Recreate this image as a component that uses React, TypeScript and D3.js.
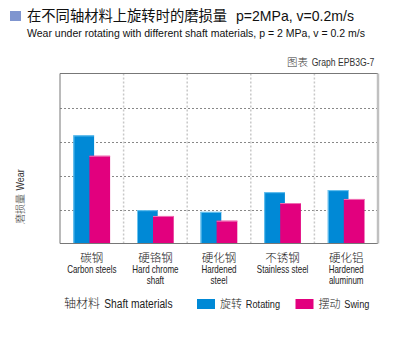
import React from "react";
import * as d3 from "d3";

const categoriesZh = ["碳钢", "硬铬钢", "硬化钢", "不锈钢", "硬化铝"];
const categoriesEn = [["Carbon steels"], ["Hard chrome", "shaft"], ["Hardened", "steel"], ["Stainless steel"], ["Hardened", "aluminum"]];
const rotating = [3.18, 0.98, 0.93, 1.51, 1.57];
const swing = [2.58, 0.81, 0.67, 1.19, 1.31];
const yTicks = [0, 1, 2, 3, 4, 5];
const seriesZh = ["旋转", "摆动"];
const seriesEn = ["Rotating", "Swing"];

const W = 400, H = 360;
const L = 60, R = 378, T = 73.5, B = 243.5;
const FONT = "'Liberation Sans', Arial, 'Noto Sans CJK SC', sans-serif";
const CJK = "'Noto Sans CJK SC', sans-serif";
const BLUE = "#0089d6";
const PINK = "#e2007e";

function Mixed({ x, y, zh, en, fs, efs, sx, fill = "#222", rotate = 0 }: any) {
  const zw = zh.length * fs + fs * 0.35;
  return (
    <g transform={`translate(${x},${y}) rotate(${rotate})`}>
      <text x={0} y={0} fontSize={fs} fontFamily={CJK} fill={fill} fontWeight={300}>{zh}</text>
      <text transform={`translate(${zw},0) scale(${sx},1)`} fontSize={efs} fontFamily={FONT} fill={fill}>{en}</text>
    </g>
  );
}

export default function App() {
  const x = d3.scaleBand<number>().domain(d3.range(categoriesZh.length)).range([L, R]);
  const y = d3.scaleLinear().domain([0, 5]).range([B, T]);
  const bw = 20.7;
  const off = 16;
  const colors = [BLUE, PINK];
  const legX = [197, 295.5];
  return (
    <svg width={W} height={H} style={{ position: "absolute", left: 0, top: 0 }} fontFamily={FONT}>
      <rect x={0} y={0} width={W} height={H} fill="#fff" />
      <rect x={10} y={11} width={11} height={10} fill="#7f95cf" />
      <text x={27} y={21} fontSize={14.3} fontFamily={CJK} fill="#111">在不同轴材料上旋转时的磨损量</text>
      <text x={236} y={21} fontSize={14.3} fill="#111" textLength={118} lengthAdjust="spacingAndGlyphs">p=2MPa, v=0.2m/s</text>
      <text x={27} y={37} fontSize={11} fill="#111" textLength={338} lengthAdjust="spacingAndGlyphs">Wear under rotating with different shaft materials, p = 2 MPa, v = 0.2 m/s</text>
      <Mixed x={287} y={66} zh="图表" en="Graph EPB3G-7" fs={10.5} efs={10.5} sx={0.82} fill="#333" />

      {yTicks.slice(1, -1).map((t) => (
        <line key={"h" + t} x1={L} x2={R} y1={Math.round(y(t)) + 0.5} y2={Math.round(y(t)) + 0.5} stroke="#888" strokeDasharray="2,2" />
      ))}
      {d3.range(1, categoriesZh.length).map((i) => (
        <line key={"v" + i} x1={x(i)!} x2={x(i)!} y1={T} y2={B} stroke="#c8c8c8" strokeWidth={1.5} strokeDasharray="2,2" />
      ))}

      {categoriesZh.map((_, i) => {
        const c = x(i)! + x.bandwidth() / 2;
        const x0 = c - 18.4;
        return (
          <g key={"b" + i}>
            <rect x={x0} y={y(rotating[i])} width={bw} height={B - y(rotating[i])} fill={BLUE} />
            <line x1={x0} x2={x0 + bw} y1={y(rotating[i]) + 0.5} y2={y(rotating[i]) + 0.5} stroke="#6cc4f0" />
            <line x1={x0 + 0.5} x2={x0 + 0.5} y1={y(rotating[i])} y2={B} stroke="#6cc4f0" />
            <rect x={x0 + off} y={y(swing[i])} width={bw} height={B - y(swing[i])} fill={PINK} />
            <line x1={x0 + off} x2={x0 + off + bw} y1={y(swing[i]) + 0.5} y2={y(swing[i]) + 0.5} stroke="#f070b4" />
          </g>
        );
      })}

      <line x1={L} x2={R} y1={T} y2={T} stroke="#777" />
      <line x1={L} x2={L} y1={T} y2={B} stroke="#777" />
      <line x1={L} x2={R} y1={B} y2={B} stroke="#777" />
      <line x1={R} x2={R} y1={T} y2={B} stroke="#c0c0c0" strokeWidth={2.5} />

      <Mixed x={24} y={224} zh="磨损量" en="Wear" fs={10} efs={10.5} sx={0.85} fill="#333" rotate={-90} />

      {categoriesZh.map((zh, i) => {
        const c = x(i)! + x.bandwidth() / 2;
        return (
          <g key={"l" + i}>
            <text x={c} y={262} fontSize={11.5} fontFamily={CJK} fontWeight={300} fill="#222" textAnchor="middle">{zh}</text>
            {categoriesEn[i].map((s, j) => (
              <text key={j} transform={`translate(${c},${273 + j * 11}) scale(0.8,1)`} fontSize={10} fill="#222" textAnchor="middle">{s}</text>
            ))}
          </g>
        );
      })}

      <Mixed x={64} y={308} zh="轴材料" en="Shaft materials" fs={12} efs={12.5} sx={0.82} />
      {seriesZh.map((zh, i) => (
        <g key={"lg" + i}>
          <rect x={legX[i]} y={299} width={18} height={10} fill={colors[i]} />
          <Mixed x={legX[i] + 23} y={307.5} zh={zh} en={seriesEn[i]} fs={11} efs={11.5} sx={0.8} />
        </g>
      ))}
    </svg>
  );
}
